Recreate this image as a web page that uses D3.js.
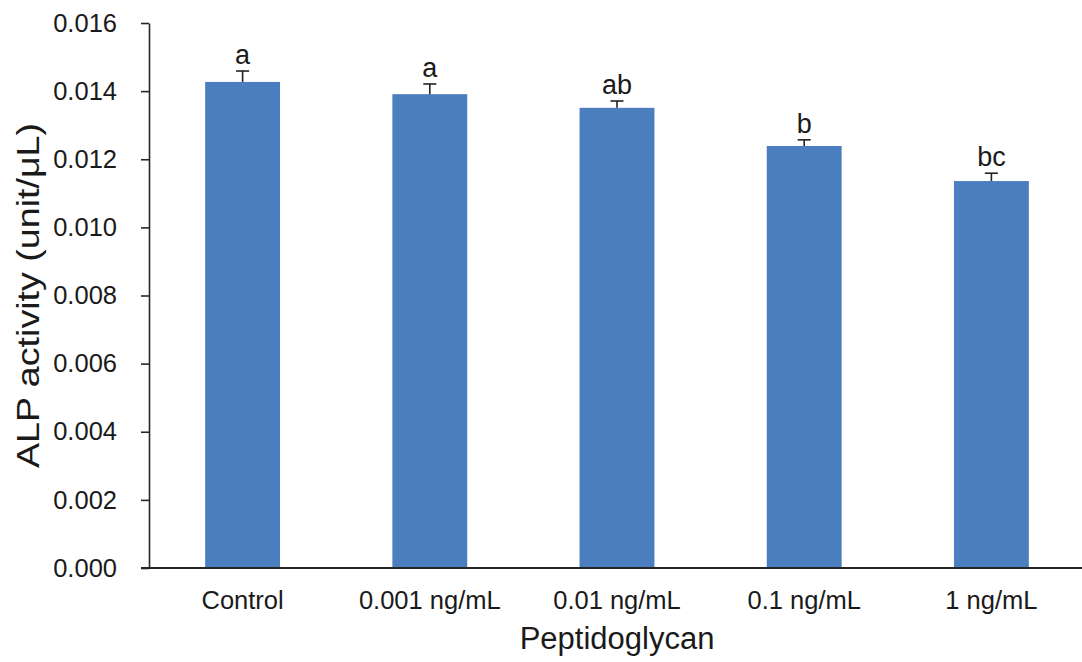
<!DOCTYPE html>
<html>
<head>
<meta charset="utf-8">
<script src="https://cdn.jsdelivr.net/npm/d3@7"></script>
<style>
  body { margin: 0; background: #fff; }
  text { font-family: "Liberation Sans", Arial, sans-serif; fill: #1a1a1a; }
</style>
</head>
<body>
<div id="chart-area"></div>
<script>
// datos
var categories = ["Control", "0.001 ng/mL", "0.01 ng/mL", "0.1 ng/mL", "1 ng/mL"];
var values = [0.01427, 0.01391, 0.01351, 0.01239, 0.01136];
var errors = [0.00032, 0.00030, 0.00020, 0.00018, 0.00023];
var letters = ["a", "a", "ab", "b", "bc"];
var yTicks = [0, 0.002, 0.004, 0.006, 0.008, 0.010, 0.012, 0.014, 0.016];

var width = 1082, height = 662;
var margin = {top: 23, left: 149, bottom: 94, right: -3};

var svg = d3.select("#chart-area")
    .append("svg")
    .attr("width", width)
    .attr("height", height);

var yScale = d3.scaleLinear()
    .domain([0, 0.016])
    .range([height - margin.bottom, margin.top]);

var xScale = d3.scaleBand()
    .domain(categories)
    .range([margin.left, width - margin.right])
    .paddingInner(0.6)
    .paddingOuter(0.3);

// Barras
svg.selectAll("rect.bar")
    .data(values)
    .enter()
    .append("rect")
    .attr("class", "bar")
    .attr("x", function(d, i){ return xScale(categories[i]); })
    .attr("y", function(d){ return yScale(d); })
    .attr("width", xScale.bandwidth())
    .attr("height", function(d){ return yScale(0) - yScale(d); })
    .attr("fill", "#4a7ebf");

// Barras de error (solo la mitad de arriba)
var err = svg.selectAll("g.err")
    .data(values)
    .enter()
    .append("g")
    .attr("class", "err")
    .attr("stroke", "#222")
    .attr("stroke-width", 1.6);
err.append("line")
    .attr("x1", function(d, i){ return xScale(categories[i]) + xScale.bandwidth()/2; })
    .attr("x2", function(d, i){ return xScale(categories[i]) + xScale.bandwidth()/2; })
    .attr("y1", function(d){ return yScale(d); })
    .attr("y2", function(d, i){ return yScale(d + errors[i]); });
err.append("line")
    .attr("x1", function(d, i){ return xScale(categories[i]) + xScale.bandwidth()/2 - 6.5; })
    .attr("x2", function(d, i){ return xScale(categories[i]) + xScale.bandwidth()/2 + 6.5; })
    .attr("y1", function(d, i){ return yScale(d + errors[i]); })
    .attr("y2", function(d, i){ return yScale(d + errors[i]); });

// Letras
svg.selectAll("text.letra")
    .data(values)
    .enter()
    .append("text")
    .attr("class", "letra")
    .attr("text-anchor", "middle")
    .style("font-size", "27px")
    .attr("x", function(d, i){ return xScale(categories[i]) + xScale.bandwidth()/2; })
    .attr("y", function(d, i){ return yScale(d + errors[i]) - 7; })
    .text(function(d, i){ return letters[i]; });

// Eje Y
var leftAxis = d3.axisLeft(yScale)
    .tickValues(yTicks)
    .tickFormat(d3.format(".3f"))
    .tickSize(8)
    .tickSizeOuter(0)
    .tickPadding(24);
var gy = svg.append("g")
    .attr("transform", "translate(" + margin.left + ",0)")
    .call(leftAxis);
gy.select(".domain").attr("stroke", "#262626").attr("stroke-width", 1.6);
gy.selectAll(".tick line").attr("stroke", "#262626").attr("stroke-width", 1.6);
gy.selectAll(".tick text").style("font-size", "25.5px").attr("fill", "#1a1a1a");

// Eje X
var bottomAxis = d3.axisBottom(xScale).tickSize(0).tickSizeOuter(0).tickPadding(23);
var gx = svg.append("g")
    .attr("transform", "translate(0," + yScale(0) + ")")
    .call(bottomAxis);
gx.select(".domain").remove();
gx.selectAll(".tick text").style("font-size", "25.5px").attr("fill", "#1a1a1a");
gx.append("line")
    .attr("x1", margin.left - 8)
    .attr("x2", width)
    .attr("y1", 0)
    .attr("y2", 0)
    .attr("stroke", "#262626")
    .attr("stroke-width", 2);

// Titulos
svg.append("text")
    .attr("x", (margin.left + width - margin.right) / 2)
    .attr("y", 649)
    .attr("text-anchor", "middle")
    .style("font-size", "31px")
    .text("Peptidoglycan");

svg.append("text")
    .attr("transform", "rotate(-90)")
    .attr("x", -(yScale(0) + yScale(0.016)) / 2)
    .attr("y", 39)
    .attr("text-anchor", "middle")
    .attr("textLength", 345)
    .attr("lengthAdjust", "spacingAndGlyphs")
    .style("font-size", "32px")
    .text("ALP activity (unit/μL)");
</script>
</body>
</html>
